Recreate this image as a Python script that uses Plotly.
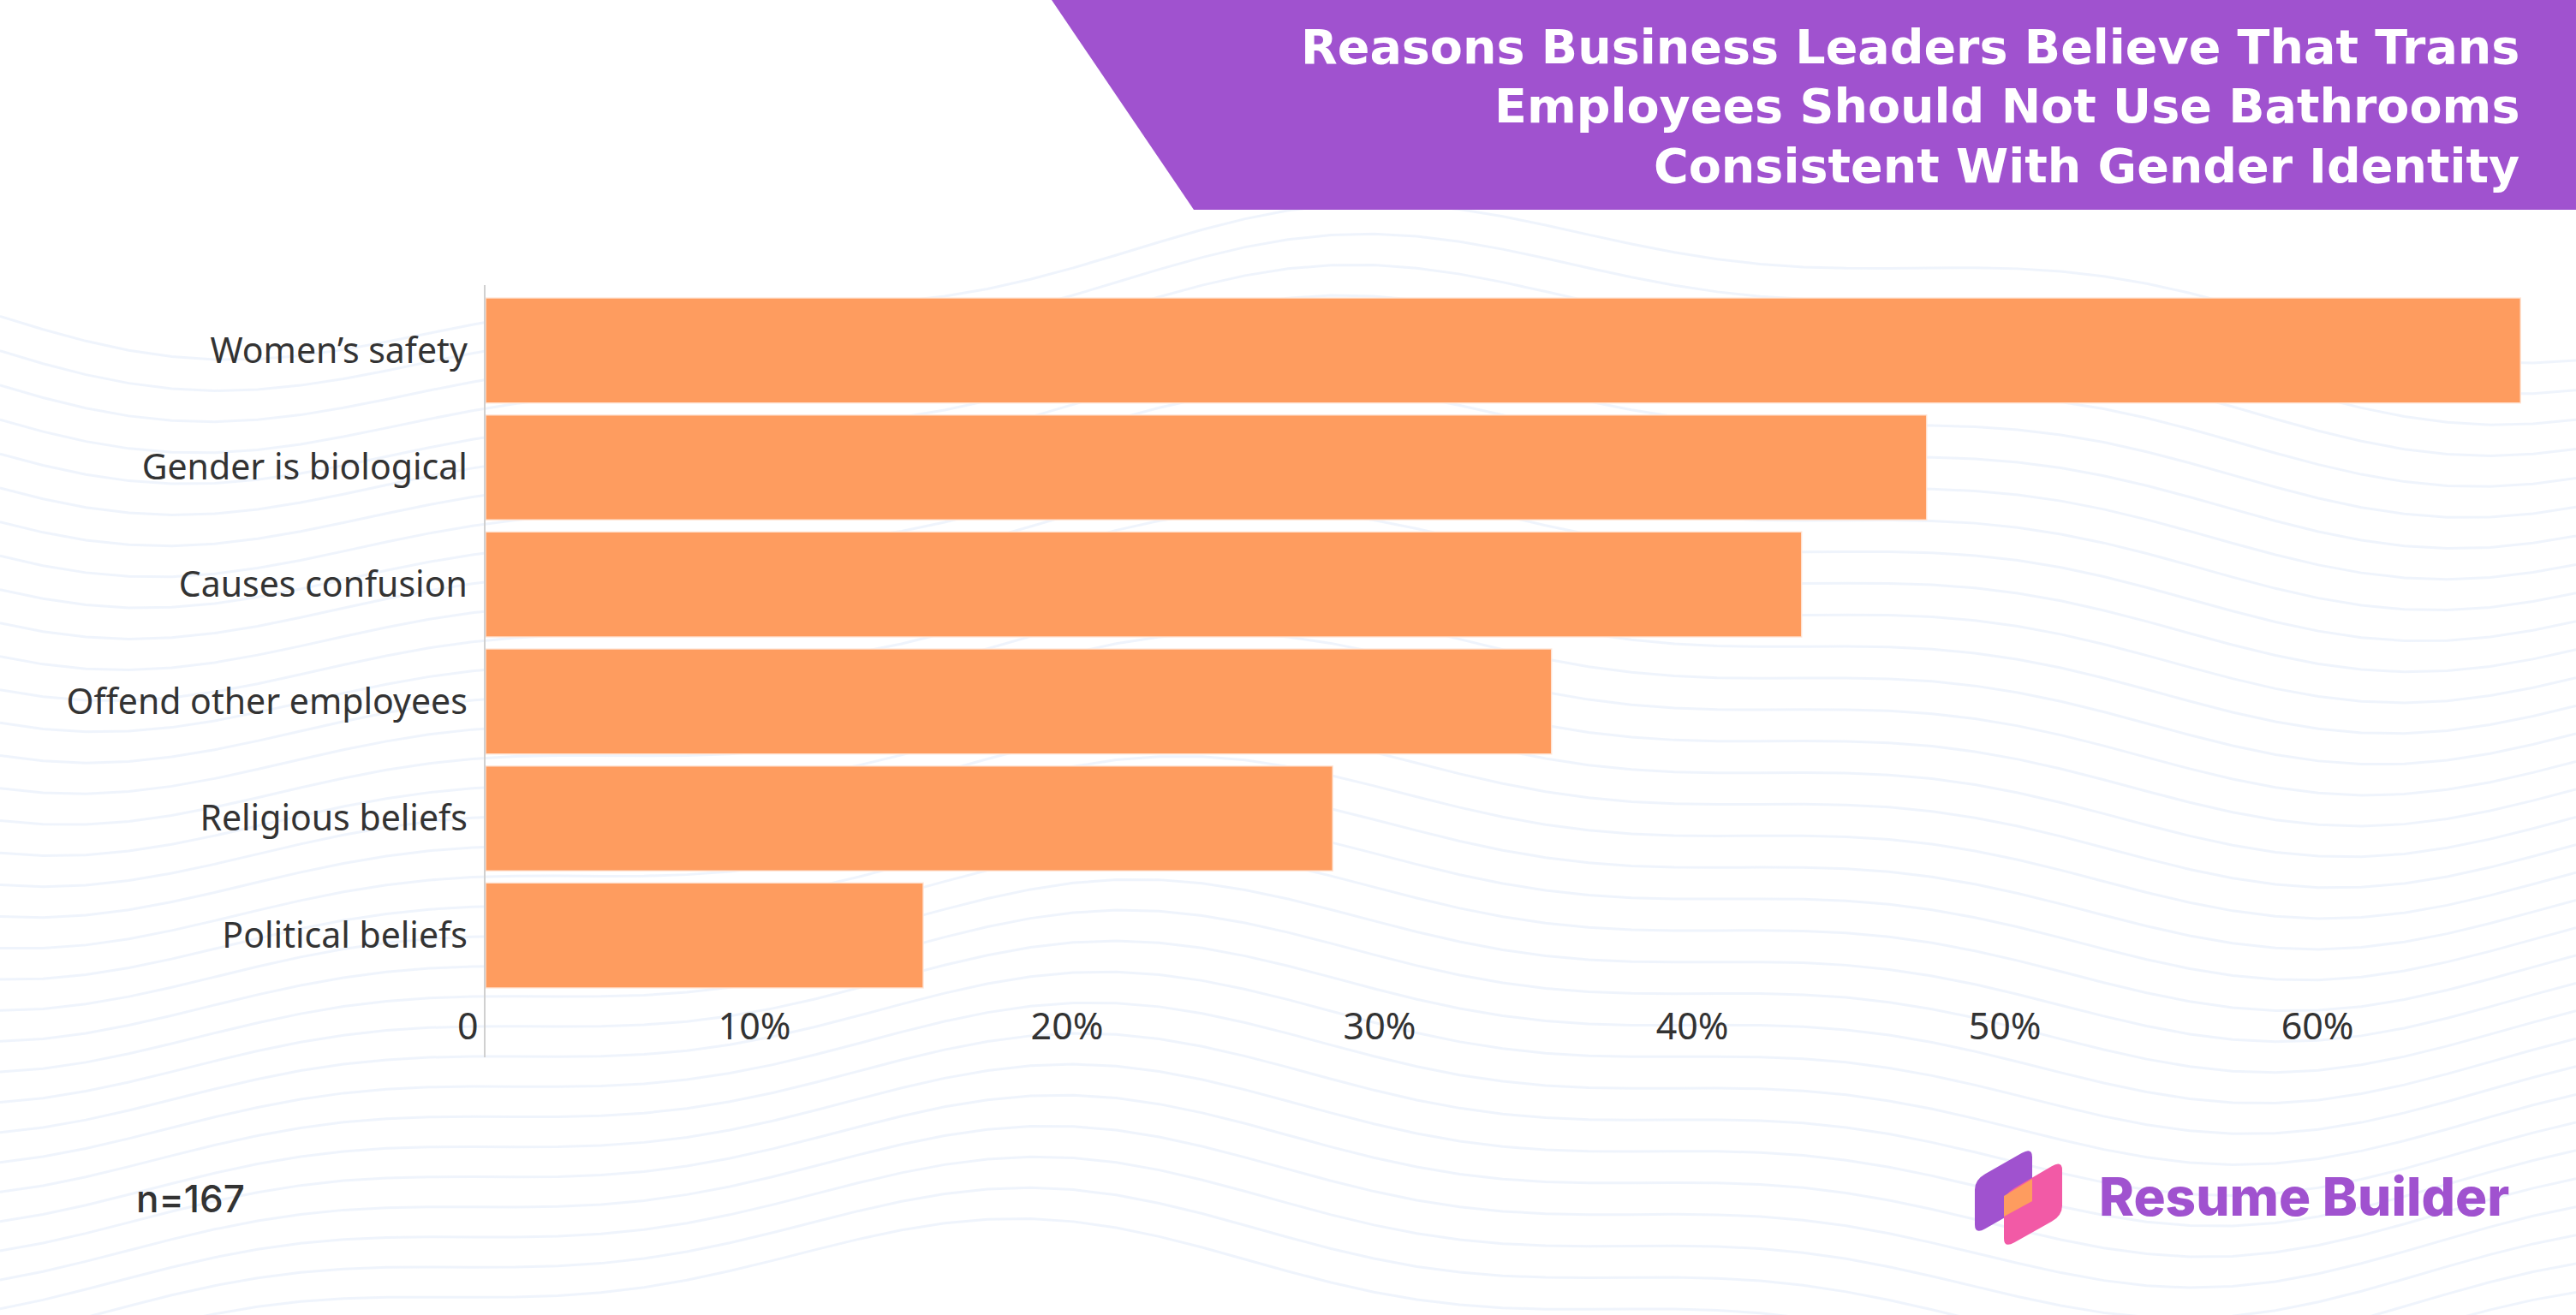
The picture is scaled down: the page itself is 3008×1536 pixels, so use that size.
import math
import plotly.graph_objects as go

# ---- data ----
categories = ["Women’s safety", "Gender is biological", "Causes confusion",
              "Offend other employees", "Religious beliefs", "Political beliefs"]
values = [65.1, 46.1, 42.1, 34.1, 27.1, 14.0]
tick_vals = [0, 10, 20, 30, 40, 50, 60]
tick_text = ["0", "10%", "20%", "30%", "40%", "50%", "60%"]
title_lines = ["Reasons Business Leaders Believe That Trans",
               "Employees Should Not Use Bathrooms",
               "Consistent With Gender Identity"]
sample_note = "n=167"
brand = "Resume Builder"

W, H = 3008, 1536
PL, PR, PT, PB = 567, 2944, 341, 1161  # plot area in px

def px(x):
    return (x - PL) / (PR - PL)

def py(y):
    return (PB - y) / (PB - PT)

PURPLE = "#A052CF"
ORANGE = "#FE9C5F"
PINK = "#F25AA6"

fig = go.Figure()
fig.add_trace(go.Bar(
    x=values, y=categories, orientation="h",
    marker=dict(color=ORANGE, line=dict(color="rgba(255,230,215,0.9)", width=1.5)),
    hoverinfo="skip",
))

shapes = []

# decorative background waves
for k in range(34):
    y0 = 330 + k * 36
    pts = []
    for i in range(0, 61):
        x = i * W / 60
        y = y0 + 70 * math.sin(2 * math.pi * x / 2600 + 0.6 + k * 0.04) \
            + 25 * math.sin(2 * math.pi * x / 900 + k * 0.08)
        pts.append((x, y))
    path = "M " + " L ".join(f"{px(a):.5f},{py(b):.5f}" for a, b in pts)
    shapes.append(dict(type="path", path=path, xref="paper", yref="paper",
                       line=dict(color="rgba(232,240,251,0.7)", width=3),
                       layer="below"))

# purple title banner
ban = [(1228, 0), (W, 0), (W, 245), (1394, 245)]
shapes.append(dict(type="path",
                   path="M " + " L ".join(f"{px(a):.5f},{py(b):.5f}" for a, b in ban) + " Z",
                   xref="paper", yref="paper", fillcolor=PURPLE, line=dict(width=0),
                   layer="above"))

# category axis line
shapes.append(dict(type="line", xref="paper", yref="paper",
                   x0=px(566), x1=px(566), y0=py(333), y1=py(1235),
                   line=dict(color="#D0D0D0", width=2), layer="above"))

# logo (rounded parallelograms)
def rounded(points, color, r=0.18):
    n = len(points)
    segs = []
    for i in range(n):
        p0 = points[i - 1]
        p1 = points[i]
        p2 = points[(i + 1) % n]
        a = (p1[0] + (p0[0] - p1[0]) * r, p1[1] + (p0[1] - p1[1]) * r)
        b = (p1[0] + (p2[0] - p1[0]) * r, p1[1] + (p2[1] - p1[1]) * r)
        segs.append((a, p1, b))
    d = f"M {px(segs[0][0][0]):.5f},{py(segs[0][0][1]):.5f}"
    for idx, (a, c, b) in enumerate(segs):
        if idx > 0:
            d += f" L {px(a[0]):.5f},{py(a[1]):.5f}"
        d += f" Q {px(c[0]):.5f},{py(c[1]):.5f} {px(b[0]):.5f},{py(b[1]):.5f}"
    d += " Z"
    return dict(type="path", path=d, xref="paper", yref="paper",
                fillcolor=color, line=dict(width=0), layer="above")

def poly(points, color):
    return dict(type="path",
                path="M " + " L ".join(f"{px(a):.5f},{py(b):.5f}" for a, b in points) + " Z",
                xref="paper", yref="paper", fillcolor=color, line=dict(width=0),
                layer="above")

shapes.append(rounded([(2306, 1378), (2373, 1340), (2373, 1404), (2306, 1442)], PURPLE))
shapes.append(rounded([(2340, 1395), (2408, 1355), (2408, 1420), (2340, 1458)], PINK))
shapes.append(poly([(2340, 1397), (2373, 1377), (2373, 1403), (2340, 1421)], ORANGE))

title_y = [55, 123, 193]
annotations = []
for line, yy in zip(title_lines, title_y):
    annotations.append(dict(text=line, xref="paper", yref="paper",
                            x=px(2944), y=py(yy), xanchor="right", yanchor="middle",
                            align="right", showarrow=False,
                            font=dict(family="DejaVu Sans", size=55.5, color="white",
                                      weight="bold")))
annotations += [
    dict(text=sample_note, xref="paper", yref="paper",
         x=px(157), y=py(1400), xanchor="left", yanchor="middle",
         showarrow=False, font=dict(family="Inter", size=44, color="#333333", weight=500)),
    dict(text=brand, xref="paper", yref="paper",
         x=px(2449), y=py(1397), xanchor="left", yanchor="middle",
         showarrow=False, font=dict(family="Inter", size=62, color=PURPLE, weight=800)),
]

fig.update_layout(
    width=W, height=H,
    margin=dict(l=PL, r=W - PR, t=PT, b=H - PB, pad=0),
    paper_bgcolor="white", plot_bgcolor="rgba(0,0,0,0)",
    showlegend=False, bargap=0.103,
    shapes=shapes, annotations=annotations,
    xaxis=dict(range=[0, 65.12], tickvals=tick_vals, ticktext=tick_text,
               showgrid=False, zeroline=False, showline=False,
               ticks="outside", ticklen=40, tickcolor="rgba(0,0,0,0)",
               ticklabelposition="outside left", ticklabelshift=-8,
               tickfont=dict(family="Noto Sans", size=43, color="#333333")),
    yaxis=dict(autorange="reversed", showgrid=False, zeroline=False, showline=False,
               ticks="outside", ticklen=12, tickcolor="rgba(0,0,0,0)",
               tickfont=dict(family="Noto Sans", size=41, color="#333333")),
)

fig.write_html("out.html")
